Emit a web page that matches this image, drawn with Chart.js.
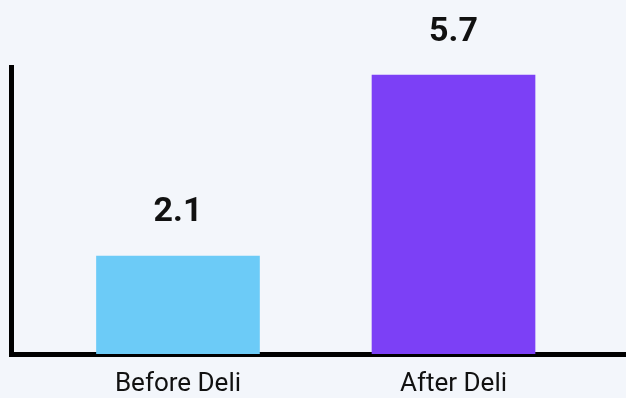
<!DOCTYPE html>
<html>
<head>
<meta charset="utf-8">
<script src="https://cdn.jsdelivr.net/npm/chart.js@4/dist/chart.umd.min.js"></script>
<style>
  html, body { margin: 0; padding: 0; background: #f3f6fb; }
  #wrap { width: 626px; height: 398px; }
</style>
</head>
<body>
<div id="wrap"><canvas id="chart"></canvas></div>
<script>
'use strict';
const categories = ['Before Deli', 'After Deli'];
const values = [2.1, 5.7];
const barColors = ['#6ccbf7', '#7c40f6'];

// value labels above the bars
const valueLabels = {
  id: 'valueLabels',
  afterDatasetsDraw(chart){
    const ctx = chart.ctx;
    const meta = chart.getDatasetMeta(0);
    ctx.save();
    ctx.font = 'bold 34px Roboto';
    ctx.fillStyle = '#111';
    ctx.textAlign = 'center';
    ctx.textBaseline = 'middle';
    meta.data.forEach((bar, i) => {
      ctx.fillText(values[i].toFixed(1), bar.x, bar.y - 43);
    });
    ctx.restore();
  }
};

new Chart(document.getElementById('chart').getContext('2d'), {
  type: 'bar',
  data: {
    datasets: [{
      data: values.map((v, i) => ({x: i, y: v})),
      backgroundColor: barColors,
      barThickness: 163,
      borderWidth: 0
    }]
  },
  options: {
    responsive: true,
    maintainAspectRatio: false,
    animation: false,
    layout: { padding: { top: 67, left: 11, right: 0, bottom: 0 } },
    plugins: { legend: { display: false }, tooltip: { enabled: false } },
    scales: {
      x: {
        type: 'linear',
        offset: false,
        min: -0.606,
        max: 1.626,
        grid: { display: false, drawTicks: false },
        border: { display: true, color: '#000', width: 5 },
        afterBuildTicks: scale => {
          scale.ticks = categories.map((c, i) => ({ value: i }));
        },
        afterFit: scale => { scale.height = 44; },
        ticks: {
          padding: 15,
          maxRotation: 0,
          minRotation: 0,
          color: '#111',
          font: { family: 'Roboto', size: 26 },
          callback: v => categories[v]
        }
      },
      y: {
        min: 0.15,
        max: 5.86,
        grid: { display: false, drawTicks: false },
        border: { display: true, color: '#000', width: 5 },
        ticks: { display: false }
      }
    }
  },
  plugins: [valueLabels]
});
</script>
</body>
</html>
